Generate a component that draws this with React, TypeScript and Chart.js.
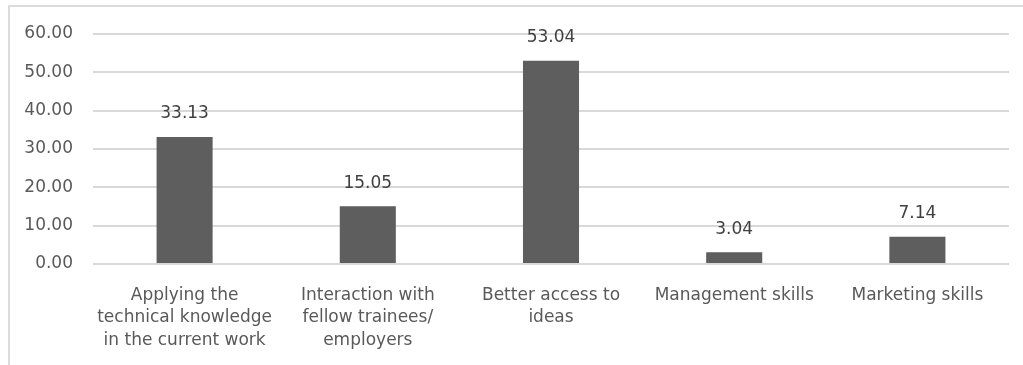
import React, { useEffect, useRef } from "react";
import { Chart, registerables } from "chart.js";

Chart.register(...registerables);

const categories: (string | string[])[] = [
  ["Applying the", "technical knowledge", "in the current work"],
  ["Interaction with", "fellow trainees/", "employers"],
  ["Better access to", "ideas"],
  "Management skills",
  "Marketing skills",
];
const values: number[] = [33.13, 15.05, 53.04, 3.04, 7.14];
const yMax = 60;
const yStep = 10;

const FONT = "'DejaVu Sans', Verdana, sans-serif";

const dataLabelPlugin = {
  id: "dataLabels",
  afterDatasetsDraw(chart: any) {
    const ctx = chart.ctx;
    const meta = chart.getDatasetMeta(0);
    ctx.save();
    ctx.font = `17px ${FONT}`;
    ctx.fillStyle = "#404040";
    ctx.textAlign = "center";
    ctx.textBaseline = "middle";
    meta.data.forEach((el: any, i: number) => {
      ctx.fillText(values[i].toFixed(2), el.x, el.y - 23);
    });
    ctx.restore();
  },
};

export default function App() {
  const ref = useRef<HTMLCanvasElement | null>(null);
  useEffect(() => {
    if (!ref.current) return;
    const chart = new Chart(ref.current, {
      type: "bar",
      data: {
        labels: categories,
        datasets: [
          {
            data: values,
            backgroundColor: "#5e5e5e",
            borderWidth: 0,
            categoryPercentage: 1,
            barPercentage: 0.306,
          },
        ],
      },
      options: {
        responsive: false,
        animation: false,
        layout: { padding: { left: 0, right: 14, top: 34, bottom: 0 } },
        plugins: {
          legend: { display: false },
          tooltip: { enabled: false },
        },
        scales: {
          x: {
            grid: { display: false },
            border: { display: false },
            ticks: {
              color: "#595959",
              font: { family: FONT, size: 17, lineHeight: 1.33 },
              maxRotation: 0,
              minRotation: 0,
              autoSkip: false,
              padding: 12,
            },
            afterFit: (s: any) => {
              s.height = 101;
            },
          },
          y: {
            min: 0,
            max: yMax,
            grid: {
              color: "#d9d9d9",
              lineWidth: 2,
              drawTicks: false,
            },
            border: { display: false },
            ticks: {
              stepSize: yStep,
              color: "#595959",
              font: { family: FONT, size: 17 },
              padding: 20,
              callback: (v: any) => Number(v).toFixed(2),
            },
            afterFit: (s: any) => {
              s.width = 93;
            },
          },
        },
      },
      plugins: [dataLabelPlugin],
    });
    return () => chart.destroy();
  }, []);

  return (
    <div style={{ position: "fixed", left: 0, top: 0, width: 1023, height: 365, background: "#fff" }}>
      <div
        style={{
          position: "absolute",
          left: 8,
          top: 5,
          width: 1015,
          height: 360,
          boxSizing: "border-box",
          borderTop: "2px solid #dcdcdc",
          borderLeft: "2px solid #dcdcdc",
        }}
      />
      <canvas
        ref={ref}
        width={1023}
        height={365}
        style={{ position: "absolute", left: 0, top: 0, display: "block" }}
      />
    </div>
  );
}
